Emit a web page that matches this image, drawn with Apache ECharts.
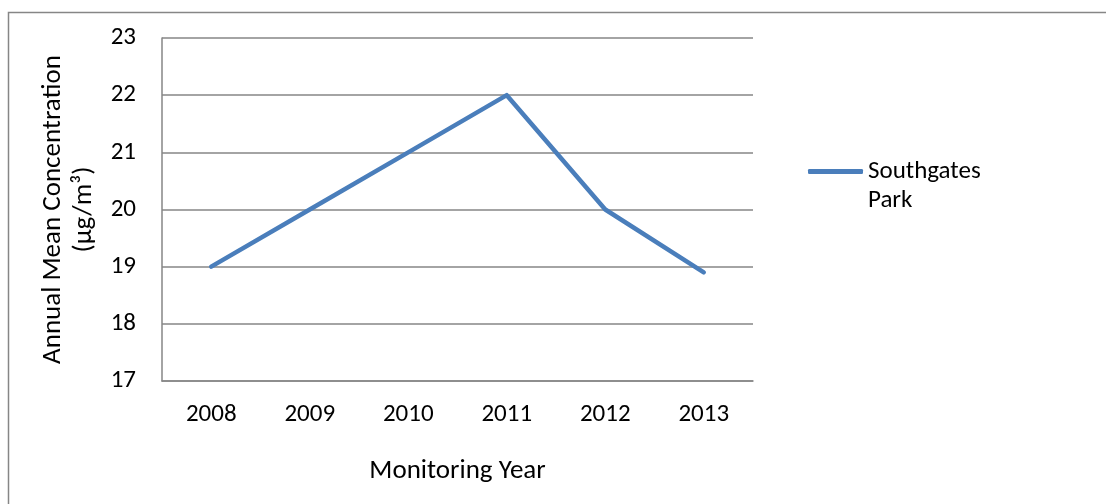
<!DOCTYPE html>
<html>
<head>
<meta charset="utf-8">
<style>
  html, body { margin: 0; padding: 0; background: #fff; }
  #chart { width: 1106px; height: 504px; }
</style>
<script src="https://cdn.jsdelivr.net/npm/echarts@6/dist/echarts.min.js"></script>
</head>
<body>
<div id="chart"></div>
<script>
// Monitoring years and annual mean concentration at Southgates Park
const years = ['2008', '2009', '2010', '2011', '2012', '2013'];
const southgatesPark = [19, 20, 21, 22, 20, 18.9];
const seriesName = 'Southgates Park';
const yMin = 17, yMax = 23, yStep = 1;

const FONT = 'Carlito, Lato, "Liberation Sans", sans-serif';
const TICK_SIZE = 25;
const TITLE_SIZE = 27;
const GRID_GRAY = '#868686';

const chart = echarts.init(document.getElementById('chart'), null, { renderer: 'canvas' });

chart.setOption({
  backgroundColor: '#ffffff',
  animation: false,
  textStyle: { fontFamily: FONT, color: '#000' },
  graphic: [{
    type: 'rect',
    shape: { x: 8.5, y: 12.5, width: 1200, height: 600 },
    style: { fill: 'none', stroke: GRID_GRAY, lineWidth: 1.5 },
    silent: true,
    z: -10
  }],
  grid: { left: 162, top: 38, right: 353, bottom: 123, containLabel: false },
  legend: {
    left: 808,
    top: 128,
    padding: 0,
    itemWidth: 55,
    itemHeight: 5,
    itemGap: 6,
    icon: 'roundRect',
    data: [seriesName],
    // leading blank line keeps the swatch level with the first text line
    formatter: () => '\nSouthgates\nPark',
    textStyle: { fontFamily: FONT, fontSize: TICK_SIZE, color: '#000', lineHeight: 29 }
  },
  xAxis: {
    type: 'category',
    data: years,
    boundaryGap: true,
    name: 'Monitoring Year',
    nameLocation: 'middle',
    nameGap: 77,
    nameTextStyle: { fontFamily: FONT, fontSize: TITLE_SIZE, color: '#000' },
    axisLine: { lineStyle: { color: GRID_GRAY, width: 1.5 } },
    axisTick: { show: false },
    axisLabel: { margin: 21, fontFamily: FONT, fontSize: TICK_SIZE, color: '#000' }
  },
  yAxis: {
    type: 'value',
    min: yMin,
    max: yMax,
    interval: yStep,
    name: 'Annual Mean Concentration\n(µg/m³)',
    nameLocation: 'middle',
    nameGap: 58,
    nameRotate: 90,
    nameTextStyle: { fontFamily: FONT, fontSize: TITLE_SIZE, color: '#000', lineHeight: 31 },
    axisLine: { show: true, lineStyle: { color: GRID_GRAY, width: 1.5 } },
    axisTick: { show: false },
    axisLabel: { margin: 26, fontFamily: FONT, fontSize: TICK_SIZE, color: '#000' },
    splitLine: { lineStyle: { color: GRID_GRAY, width: 1.5 } }
  },
  series: [{
    name: seriesName,
    type: 'line',
    data: southgatesPark,
    symbol: 'none',
    color: '#4a7ebb',
    lineStyle: { width: 4.5, color: '#4a7ebb', cap: 'round', join: 'round' }
  }]
});
</script>
</body>
</html>
